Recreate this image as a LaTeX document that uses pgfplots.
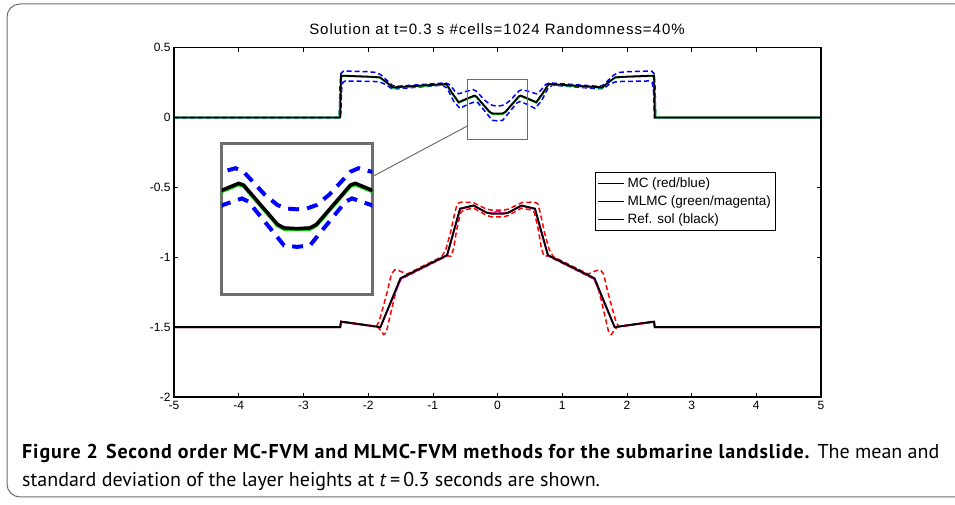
\documentclass[border=0pt]{standalone}
\usepackage{pgfplots}
\pgfplotsset{compat=1.18}
\usepackage{pgfplotstable}
\usepackage{fontspec}
\setmainfont{Liberation Sans}
\newfontfamily\capfont{PT Sans}
\definecolor{framegray}{RGB}{110,110,110}
\definecolor{mgreen}{RGB}{0,210,0}

\pgfplotstableread{
x y
-5 0
-2.43 0
-2.42 0.30
-2.0 0.293
-1.82 0.288
-1.72 0.255
-1.62 0.216
-0.79 0.240
-0.70 0.175
-0.60 0.110
-0.46 0.138
-0.36 0.157
-0.33 0.152
-0.12 0.040
-0.08 0.030
0 0.028
0.08 0.030
0.12 0.040
0.33 0.152
0.36 0.157
0.46 0.138
0.60 0.110
0.70 0.175
0.79 0.240
1.62 0.216
1.72 0.255
1.82 0.288
2.0 0.293
2.42 0.30
2.43 0
5 0
}\topblack

\pgfplotstableread{
x y
-5 0
-2.445 0
-2.415 0.29
-2.38 0.298
-2.0 0.291
-1.82 0.286
-1.72 0.252
-1.62 0.213
-0.79 0.237
-0.70 0.171
-0.60 0.106
-0.46 0.134
-0.36 0.153
-0.33 0.148
-0.12 0.036
-0.08 0.026
0 0.025
0.08 0.026
0.12 0.036
0.33 0.148
0.36 0.153
0.46 0.134
0.60 0.106
0.70 0.171
0.79 0.237
1.62 0.213
1.72 0.252
1.82 0.286
2.0 0.291
2.38 0.298
2.415 0.29
2.445 0
5 0
}\topgreen

\pgfplotstableread{
x y
-5 0
-2.445 0
-2.435 0.22
-2.42 0.315
-2.38 0.333
-2.0 0.328
-1.88 0.323
-1.80 0.305
-1.70 0.262
-1.62 0.228
-1.55 0.224
-0.80 0.248
-0.74 0.235
-0.66 0.190
-0.60 0.170
-0.50 0.185
-0.38 0.200
-0.33 0.190
-0.20 0.125
-0.12 0.095
-0.06 0.085
0 0.083
0.06 0.085
0.12 0.095
0.20 0.125
0.33 0.190
0.38 0.200
0.50 0.185
0.60 0.170
0.66 0.190
0.74 0.235
0.80 0.248
1.55 0.224
1.62 0.228
1.70 0.262
1.80 0.305
1.88 0.323
2.0 0.328
2.38 0.333
2.42 0.315
2.435 0.22
2.445 0
5 0
}\topub

\pgfplotstableread{
x y
-5 0
-2.425 0
-2.41 0.20
-2.39 0.252
-2.35 0.262
-1.90 0.258
-1.82 0.255
-1.72 0.235
-1.64 0.208
-1.55 0.206
-0.85 0.232
-0.78 0.210
-0.68 0.120
-0.58 0.065
-0.46 0.095
-0.34 0.114
-0.30 0.105
-0.15 0.020
-0.08 -0.020
0 -0.024
0.08 -0.020
0.15 0.020
0.30 0.105
0.34 0.114
0.46 0.095
0.58 0.065
0.68 0.120
0.78 0.210
0.85 0.232
1.55 0.206
1.64 0.208
1.72 0.235
1.82 0.255
1.90 0.258
2.35 0.262
2.39 0.252
2.41 0.20
2.425 0
5 0
}\toplb

\pgfplotstableread{
x y
-5 -1.5
-2.43 -1.5
-2.42 -1.46
-1.81 -1.50
-1.50 -1.15
-0.78 -0.985
-0.58 -0.652
-0.37 -0.629
-0.17 -0.680
-0.10 -0.688
0 -0.688
0.10 -0.688
0.17 -0.680
0.37 -0.629
0.58 -0.652
0.78 -0.985
1.50 -1.15
1.81 -1.50
2.42 -1.46
2.43 -1.5
5 -1.5
}\botblack

\pgfplotstableread{
x y
-5 -1.5
-2.43 -1.5
-2.42 -1.463
-1.81 -1.50
-1.49 -1.152
-0.78 -0.987
-0.575 -0.654
-0.37 -0.631
-0.17 -0.680
-0.06 -0.686
0 -0.668
0.06 -0.686
0.17 -0.680
0.37 -0.631
0.575 -0.654
0.78 -0.987
1.49 -1.152
1.81 -1.50
2.42 -1.463
2.43 -1.5
5 -1.5
}\botmag

\pgfplotstableread{
x y
-5 -1.5
-2.43 -1.5
-2.42 -1.458
-1.87 -1.494
-1.83 -1.46
-1.77 -1.36
-1.70 -1.24
-1.64 -1.12
-1.59 -1.09
-1.53 -1.095
-1.40 -1.120
-0.86 -0.995
-0.80 -0.945
-0.73 -0.830
-0.66 -0.680
-0.62 -0.615
-0.56 -0.605
-0.38 -0.608
-0.17 -0.655
-0.10 -0.662
0 -0.662
0.10 -0.662
0.17 -0.655
0.38 -0.608
0.56 -0.605
0.62 -0.615
0.66 -0.680
0.73 -0.830
0.80 -0.945
0.86 -0.995
1.40 -1.120
1.53 -1.095
1.59 -1.09
1.64 -1.12
1.70 -1.24
1.77 -1.36
1.83 -1.46
1.87 -1.494
2.42 -1.458
2.43 -1.5
5 -1.5
}\botur

\pgfplotstableread{
x y
-5 -1.5
-2.43 -1.5
-2.42 -1.462
-1.85 -1.50
-1.80 -1.525
-1.76 -1.553
-1.72 -1.54
-1.68 -1.46
-1.60 -1.30
-1.53 -1.18
-1.47 -1.150
-1.40 -1.135
-0.78 -0.990
-0.72 -0.992
-0.68 -0.940
-0.63 -0.800
-0.57 -0.680
-0.52 -0.662
-0.37 -0.648
-0.17 -0.700
-0.10 -0.710
0 -0.710
0.10 -0.710
0.17 -0.700
0.37 -0.648
0.52 -0.662
0.57 -0.680
0.63 -0.800
0.68 -0.940
0.72 -0.992
0.78 -0.990
1.40 -1.135
1.47 -1.150
1.53 -1.18
1.60 -1.30
1.68 -1.46
1.72 -1.54
1.76 -1.553
1.80 -1.525
1.85 -1.50
2.42 -1.462
2.43 -1.5
5 -1.5
}\botlr

\begin{document}
\begin{tikzpicture}
\path[use as bounding box] (0pt,0pt) rectangle (955pt,505pt);
% figure frame
\draw[framegray, line width=1pt, rounded corners=13pt] (7pt,8pt) rectangle (985pt,501pt);

% title
\node[font=\fontsize{15}{15}\selectfont\addfontfeature{LetterSpace=6.5}, anchor=base] at (497pt,470pt) {Solution at t=0.3 s \#cells=1024 Randomness=40\%};

\begin{axis}[
  at={(174pt,108pt)}, anchor=south west,
  scale only axis, width=647pt, height=349.3pt,
  xmin=-5, xmax=5, ymin=-2, ymax=0.5,
  xtick={-5,-4,-3,-2,-1,0,1,2,3,4,5},
  ytick={-2,-1.5,-1,-0.5,0,0.5},
  tick align=inside, major tick length=4pt,
  tick style={black, line width=0.6pt},
  axis line style={black, line width=1.2pt},
  /pgf/number format/assume math mode=true,
  ticklabel style={font=\fontsize{12}{12}\selectfont},
  xticklabel style={yshift=-1pt},
  legend style={at={(0.651,0.644)}, anchor=north west, draw=black, line width=1.2pt,
     font=\fontsize{13.5}{13.5}\selectfont, inner xsep=2pt, inner ysep=2pt,
     nodes={text height=10pt, text depth=3pt, inner sep=2.5pt}, row sep=0pt},
  legend cell align=left,
  legend image code/.code={\draw[black, line width=1.2pt] (0pt,0pt) -- (26pt,0pt);},
]
\addplot[blue, line width=1.5pt, dash pattern=on 5pt off 3pt, forget plot] table {\topub};
\addplot[blue, line width=1.5pt, dash pattern=on 5pt off 3pt, forget plot] table {\toplb};
\addplot[red, line width=1.5pt, dash pattern=on 5pt off 3pt, forget plot] table {\botur};
\addplot[red, line width=1.5pt, dash pattern=on 5pt off 3pt, forget plot] table {\botlr};
\addplot[mgreen, line width=1.8pt, forget plot] table {\topgreen};
\addplot[magenta, line width=1.8pt, forget plot] table {\botmag};
\addplot[black, line width=1.8pt, forget plot] table {\topblack};
\addplot[black, line width=1.8pt, forget plot] table {\botblack};
\addlegendimage{black}
\addlegendentry{MC (red/blue)}
\addlegendimage{black}
\addlegendentry{MLMC (green/magenta)}
\addlegendimage{black}
\addlegendentry{Ref. sol (black)}
% zoom box
\draw[framegray, line width=1pt] (axis cs:-0.465,-0.159) rectangle (axis cs:0.465,0.269);
\end{axis}

\draw[framegray, line width=1pt] (372.3pt,328.3pt) -- (467.3pt,379pt);

\begin{axis}[
  at={(221.7pt,210.7pt)}, anchor=south west,
  scale only axis, width=150.6pt, height=150.3pt,
  xmin=-0.465, xmax=0.465, ymin=-0.159, ymax=0.269,
  xtick=\empty, ytick=\empty,
  axis line style={framegray, line width=3pt},
  axis background/.style={fill=white},
]
\addplot[blue, line width=4pt, dash pattern=on 11pt off 8pt] table {\topub};
\addplot[blue, line width=4pt, dash pattern=on 11pt off 8pt] table {\toplb};
\addplot[mgreen, line width=3pt] table {\topgreen};
\addplot[black, line width=3.5pt] table {\topblack};
\end{axis}

% caption
\node[anchor=base west, inner sep=0pt, font=\capfont\fontsize{20}{20}\selectfont] at (22pt,46pt)
  {\textbf{\addfontfeature{LetterSpace=4.4}Figure 2\hspace{0.4em}Second order MC-FVM and MLMC-FVM methods for the submarine landslide.} The mean and};
\node[anchor=base west, inner sep=0pt, font=\capfont\fontsize{20}{20}\selectfont] at (22pt,18pt)
  {standard deviation of the layer heights at \textit{t}\,=\,0.3 seconds are shown.};
\end{tikzpicture}
\end{document}
